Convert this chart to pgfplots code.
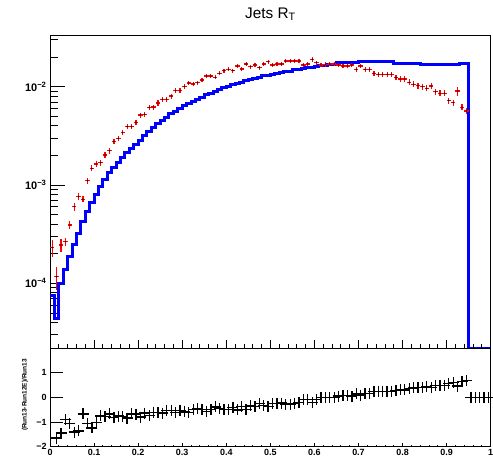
\documentclass[border=0pt]{standalone}
\usepackage{pgfplots}
\usepackage{pgfplotstable}
\pgfplotsset{compat=1.18}
\usepackage{fontspec}
\setmainfont{Liberation Sans}

\pgfplotstableread{
x y
0.00 7.48e-5
0.01 4.41e-5
0.02 1.000e-4
0.03 1.398e-4
0.04 1.895e-4
0.05 2.493e-4
0.06 3.226e-4
0.07 4.273e-4
0.08 5.351e-4
0.09 6.605e-4
0.10 8.04e-4
0.11 9.61e-4
0.12 1.143e-3
0.13 1.334e-3
0.14 1.514e-3
0.15 1.702e-3
0.16 1.913e-3
0.17 2.131e-3
0.18 2.351e-3
0.19 2.582e-3
0.20 2.870e-3
0.21 3.189e-3
0.22 3.542e-3
0.23 3.890e-3
0.24 4.223e-3
0.25 4.531e-3
0.26 4.862e-3
0.27 5.277e-3
0.28 5.659e-3
0.29 6.002e-3
0.30 6.364e-3
0.31 6.748e-3
0.32 7.152e-3
0.33 7.497e-3
0.34 7.855e-3
0.35 8.233e-3
0.36 8.567e-3
0.37 8.939e-3
0.38 9.365e-3
0.39 9.701e-3
0.40 1.0046e-2
0.41 1.041e-2
0.42 1.073e-2
0.43 1.109e-2
0.44 1.143e-2
0.45 1.184e-2
0.46 1.218e-2
0.47 1.249e-2
0.48 1.285e-2
0.49 1.315e-2
0.50 1.346e-2
0.51 1.362e-2
0.52 1.379e-2
0.53 1.411e-2
0.54 1.444e-2
0.55 1.479e-2
0.56 1.503e-2
0.57 1.531e-2
0.58 1.557e-2
0.59 1.586e-2
0.60 1.605e-2
0.61 1.624e-2
0.62 1.651e-2
0.63 1.663e-2
0.64 1.682e-2
0.65 1.742e-2
0.66 1.742e-2
0.67 1.742e-2
0.68 1.742e-2
0.69 1.742e-2
0.70 1.784e-2
0.71 1.784e-2
0.72 1.784e-2
0.73 1.784e-2
0.74 1.784e-2
0.75 1.784e-2
0.76 1.784e-2
0.77 1.784e-2
0.78 1.710e-2
0.79 1.710e-2
0.80 1.710e-2
0.81 1.710e-2
0.82 1.710e-2
0.83 1.710e-2
0.84 1.663e-2
0.85 1.663e-2
0.86 1.663e-2
0.87 1.663e-2
0.88 1.663e-2
0.89 1.663e-2
0.90 1.663e-2
0.91 1.663e-2
0.92 1.663e-2
0.93 1.730e-2
0.94 1.730e-2
0.95 2.2e-5
1.00 2.2e-5
}\bluedata

\pgfplotstableread{
x y e
0.005 2.303e-4 0.19
0.015 1.167e-4 0.26
0.025 2.453e-4 0.16
0.035 2.65e-4 0.09
0.045 3.92e-4 0.09
0.055 6.02e-4 0.09
0.065 7.60e-4 0.08
0.075 7.15e-4 0.07
0.085 1.106e-3 0.07
0.095 1.479e-3 0.07
0.105 1.635e-3 0.07
0.115 1.686e-3 0.07
0.125 2.020e-3 0.07
0.135 2.233e-3 0.07
0.145 2.758e-3 0.06
0.155 2.987e-3 0.06
0.165 3.404e-3 0.06
0.175 3.918e-3 0.06
0.185 3.918e-3 0.06
0.195 4.343e-3 0.06
0.205 5.153e-3 0.06
0.215 5.238e-3 0.06
0.225 6.172e-3 0.06
0.235 6.216e-3 0.06
0.245 6.83e-3 0.06
0.255 7.44e-3 0.06
0.265 7.44e-3 0.06
0.275 8.04e-3 0.06
0.285 9.11e-3 0.06
0.295 9.11e-3 0.06
0.305 1.0095e-2 0.06
0.315 1.090e-2 0.05
0.325 1.065e-2 0.05
0.335 1.098e-2 0.05
0.345 1.170e-2 0.05
0.355 1.285e-2 0.05
0.365 1.285e-2 0.05
0.375 1.246e-2 0.05
0.385 1.369e-2 0.05
0.395 1.455e-2 0.05
0.405 1.503e-2 0.05
0.415 1.455e-2 0.05
0.425 1.624e-2 0.05
0.435 1.514e-2 0.05
0.445 1.702e-2 0.05
0.455 1.598e-2 0.05
0.465 1.663e-2 0.05
0.475 1.561e-2 0.05
0.485 1.702e-2 0.05
0.495 1.796e-2 0.05
0.505 1.663e-2 0.05
0.515 1.702e-2 0.05
0.525 1.702e-2 0.05
0.535 1.826e-2 0.05
0.545 1.826e-2 0.05
0.555 1.826e-2 0.05
0.565 1.826e-2 0.05
0.575 1.663e-2 0.05
0.585 1.702e-2 0.05
0.595 1.900e-2 0.06
0.605 1.755e-2 0.05
0.615 1.663e-2 0.055
0.625 1.690e-2 0.055
0.635 1.702e-2 0.055
0.645 1.702e-2 0.055
0.655 1.663e-2 0.055
0.665 1.624e-2 0.055
0.675 1.624e-2 0.055
0.685 1.663e-2 0.055
0.695 1.503e-2 0.055
0.705 1.624e-2 0.055
0.715 1.503e-2 0.055
0.725 1.503e-2 0.055
0.735 1.369e-2 0.055
0.745 1.337e-2 0.055
0.755 1.337e-2 0.055
0.765 1.337e-2 0.055
0.775 1.337e-2 0.055
0.785 1.246e-2 0.06
0.795 1.198e-2 0.06
0.805 1.198e-2 0.06
0.815 1.109e-2 0.07
0.825 1.058e-2 0.07
0.835 1.024e-2 0.07
0.845 1.000e-2 0.07
0.855 9.63e-3 0.07
0.865 1.016e-2 0.07
0.875 8.89e-3 0.07
0.885 8.57e-3 0.07
0.895 8.57e-3 0.07
0.905 7.20e-3 0.07
0.915 6.87e-3 0.07
0.925 9.04e-3 0.11
0.935 6.17e-3 0.07
0.945 5.66e-3 0.07
}\reddata

\pgfplotstableread{
x y
0.005 -2.08
0.015 -1.65
0.025 -1.45
0.035 -0.90
0.045 -1.07
0.055 -1.41
0.065 -1.36
0.075 -0.67
0.085 -1.07
0.095 -1.24
0.105 -1.03
0.115 -0.75
0.125 -0.77
0.135 -0.67
0.145 -0.82
0.155 -0.76
0.165 -0.78
0.175 -0.84
0.185 -0.67
0.195 -0.68
0.205 -0.80
0.215 -0.64
0.225 -0.74
0.235 -0.60
0.245 -0.62
0.255 -0.64
0.265 -0.53
0.275 -0.52
0.285 -0.61
0.295 -0.52
0.305 -0.59
0.315 -0.62
0.325 -0.49
0.335 -0.47
0.345 -0.49
0.355 -0.56
0.365 -0.50
0.375 -0.39
0.385 -0.46
0.395 -0.50
0.405 -0.50
0.415 -0.40
0.425 -0.51
0.435 -0.37
0.445 -0.49
0.455 -0.35
0.465 -0.37
0.475 -0.25
0.485 -0.33
0.495 -0.37
0.505 -0.24
0.515 -0.25
0.525 -0.23
0.535 -0.29
0.545 -0.27
0.555 -0.24
0.565 -0.22
0.575 -0.09
0.585 -0.09
0.595 -0.20
0.605 -0.09
0.615 -0.02
0.625 -0.02
0.635 -0.02
0.645 -0.01
0.655 0.05
0.665 0.07
0.675 0.07
0.685 0.05
0.695 0.14
0.705 0.09
0.715 0.16
0.725 0.16
0.735 0.23
0.745 0.25
0.755 0.25
0.765 0.25
0.775 0.25
0.785 0.27
0.795 0.30
0.805 0.30
0.815 0.35
0.825 0.38
0.835 0.40
0.845 0.40
0.855 0.42
0.865 0.39
0.875 0.47
0.885 0.49
0.895 0.49
0.905 0.57
0.915 0.59
0.925 0.46
0.935 0.64
0.945 0.67
0.955 0
0.965 0
0.975 0
0.985 0
0.995 0
}\ratiodata

\begin{document}
\begin{tikzpicture}
\path[use as bounding box] (0,0) rectangle (493bp,-459bp);

% ---------- top panel: data, frame, y ticks ----------
\begin{axis}[
  at={(50bp,-348bp)}, anchor=south west,
  width=440.7bp, height=312.3bp, scale only axis,
  xmin=0, xmax=1, ymode=log, ymin=2.2e-5, ymax=3.3e-2,
  axis line style={line width=0.8bp, black},
  tick align=inside, ytick pos=left,
  xtick=\empty,
  ytick={1e-4,1e-3,1e-2},
  yticklabels={10\textsuperscript{−4},10\textsuperscript{−3},10\textsuperscript{−2}},
  minor ytick={3e-5,4e-5,5e-5,6e-5,7e-5,8e-5,9e-5,2e-4,3e-4,4e-4,5e-4,6e-4,7e-4,8e-4,9e-4,2e-3,3e-3,4e-3,5e-3,6e-3,7e-3,8e-3,9e-3,2e-2,3e-2},
  major tick length=15bp, minor tick length=7.7bp,
  tick style={line width=0.8bp, black},
  yticklabel style={font=\bfseries\fontsize{11}{11}\selectfont, anchor=east, inner sep=0pt, xshift=-3.3bp},
]
\addplot[blue, line width=3bp, const plot, forget plot] table[x=x,y=y] {\bluedata};
% red error bars only
\addplot[red, draw=none, mark=none, forget plot,
  error bars/.cd, y dir=both, y explicit relative, x dir=both, x fixed=0.005,
  error bar style={draw=red, line width=1.2bp}, error mark=none]
  table[x=x, y=y, y error=e] {\reddata};
% black centre dots
\addplot[black, only marks, mark=*, mark size=0.4bp, forget plot]
  table[x=x, y=y] {\reddata};
\end{axis}

% ---------- top panel: x ticks ----------
\begin{axis}[
  at={(50bp,-348bp)}, anchor=south west,
  width=440.7bp, height=312.3bp, scale only axis,
  xmin=0, xmax=1, ymin=0, ymax=1,
  hide y axis, axis x line*=bottom,
  axis line style={line width=0.8bp, black},
  tick align=inside, xtick pos=bottom,
  xtick={0,0.1,...,1.0}, xticklabels={}, minor x tick num=4,
  major tick length=8.3bp, minor tick length=4bp,
  tick style={line width=0.8bp, black},
]
\end{axis}

% ---------- ratio panel: data, frame, y ticks ----------
\begin{axis}[
  at={(50bp,-446.7bp)}, anchor=south west,
  width=440.7bp, height=98.7bp, scale only axis,
  xmin=0, xmax=1, ymin=-2, ymax=2,
  axis line style={line width=0.8bp, black},
  tick align=inside, ytick pos=left,
  xtick=\empty,
  ytick={-2,-1,0,1},
  yticklabels={−2,−1,0,1},
  major tick length=12.7bp,
  tick style={line width=0.8bp, black},
  yticklabel style={font=\bfseries\fontsize{9}{9}\selectfont, anchor=east, inner sep=0pt, xshift=-3.3bp},
]
\addplot[only marks, mark=+, mark size=5.5bp, mark options={line width=1.3bp}, black] table[x=x,y=y] {\ratiodata};
\end{axis}

% ---------- ratio panel: x ticks and labels ----------
\begin{axis}[
  at={(50bp,-446.7bp)}, anchor=south west,
  width=440.7bp, height=98.7bp, scale only axis,
  xmin=0, xmax=1, ymin=0, ymax=1,
  hide y axis, axis x line*=bottom,
  axis line style={line width=0.8bp, black},
  tick align=inside, xtick pos=bottom,
  xtick={0,0.1,0.2,0.3,0.4,0.5,0.6,0.7,0.8,0.9,1},
  xticklabels={0,0.1,0.2,0.3,0.4,0.5,0.6,0.7,0.8,0.9,1},
  minor x tick num=4,
  major tick length=4bp, minor tick length=2bp,
  tick style={line width=0.8bp, black},
  xticklabel style={font=\bfseries\fontsize{9}{9}\selectfont, anchor=north, inner sep=0pt, yshift=-2.3bp},
]
\end{axis}

\node[anchor=base, font=\fontsize{15.4}{15.4}\selectfont, inner sep=0pt] at (270.4bp,-18.3bp) {Jets R\textsubscript{T}};
\node[rotate=90, font=\bfseries\fontsize{6.5}{6.5}\selectfont, inner sep=0pt] at (25bp,-395bp) {(Run13-Run12E)/Run13};
\end{tikzpicture}
\end{document}
